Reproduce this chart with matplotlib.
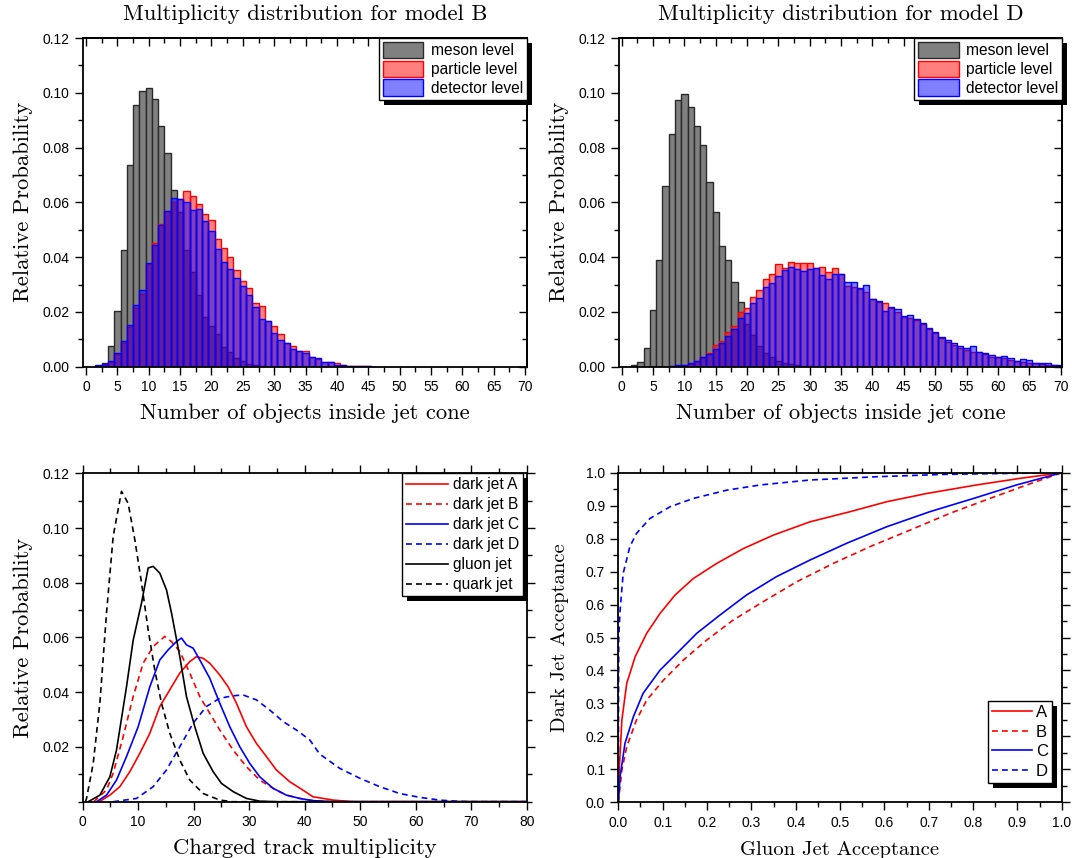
import numpy as np
import matplotlib
matplotlib.use("Agg")
import matplotlib.pyplot as plt
import matplotlib.patheffects as pe
from matplotlib.ticker import MultipleLocator, FixedLocator

# ---- model B histograms (bins = integer multiplicities) ----
meson_b_start = 2
meson_b = [0.0003, 0.0015, 0.0075, 0.0205, 0.0427, 0.0735, 0.0955, 0.1006, 0.1016,
           0.0977, 0.0878, 0.078, 0.0644, 0.0565, 0.0427, 0.0345, 0.0263, 0.018,
           0.015, 0.0118, 0.0072, 0.0052, 0.003, 0.0022, 0.001, 0.0006, 0.0003]
particle_b_start = 2
particle_b = [0.0003, 0.0008, 0.0018, 0.0045, 0.0085, 0.0145, 0.0215, 0.0265, 0.0375,
              0.045, 0.052, 0.057, 0.060, 0.0612, 0.0641, 0.0623, 0.0594, 0.0559,
              0.0536, 0.0468, 0.0434, 0.040, 0.0354, 0.0314, 0.0289, 0.0234, 0.022,
              0.0168, 0.0148, 0.0119, 0.0085, 0.0074, 0.0058, 0.0056, 0.0034, 0.0028,
              0.0018, 0.0016, 0.0013, 0.0006, 0.0003, 0.0002, 0.0001, 0.0001]
detector_b_start = 2
detector_b = [0.0006, 0.001, 0.002, 0.005, 0.0093, 0.0152, 0.0227, 0.0279, 0.0377,
              0.0445, 0.0519, 0.0568, 0.0616, 0.0611, 0.0602, 0.0573, 0.0576, 0.0533,
              0.0497, 0.043, 0.0384, 0.0358, 0.0325, 0.0293, 0.0261, 0.0217, 0.0173,
              0.0166, 0.0124, 0.0097, 0.0085, 0.0064, 0.0057, 0.005, 0.0034, 0.003,
              0.0018, 0.0016, 0.0006, 0.0006, 0.0003, 0.0002, 0.0002, 0.0001]

# ---- model D histograms ----
meson_d_start = 2
meson_d = [0.0005, 0.0017, 0.0068, 0.0206, 0.0388, 0.0661, 0.0848, 0.0973, 0.0994,
           0.0949, 0.0878, 0.081, 0.0676, 0.0566, 0.0442, 0.039, 0.031, 0.0235,
           0.0155, 0.0115, 0.0075, 0.005, 0.0035, 0.0022, 0.0013, 0.001, 0.0006,
           0.0004, 0.0002]
particle_d_start = 8
particle_d = [0.0002, 0.0004, 0.0007, 0.001, 0.0022, 0.0035, 0.005, 0.008, 0.0095,
              0.0126, 0.015, 0.02, 0.0215, 0.0256, 0.028, 0.0322, 0.0338, 0.0374,
              0.036, 0.0384, 0.038, 0.0377, 0.0378, 0.0359, 0.0363, 0.0344, 0.036,
              0.0338, 0.0293, 0.029, 0.0283, 0.0274, 0.0246, 0.0238, 0.0232, 0.0213,
              0.0201, 0.0183, 0.0177, 0.0171, 0.0156, 0.0137, 0.0122, 0.0104, 0.0091,
              0.0079, 0.0067, 0.0061, 0.0055, 0.0052, 0.0046, 0.0037, 0.0034, 0.003,
              0.0024, 0.002, 0.0017, 0.0015, 0.0012, 0.0009, 0.0007, 0.0005, 0.0004]
detector_d_start = 8
detector_d = [0.0002, 0.0005, 0.0008, 0.0012, 0.0022, 0.0034, 0.0048, 0.0065, 0.0088,
              0.0113, 0.0137, 0.0177, 0.0195, 0.0232, 0.025, 0.029, 0.0305, 0.0332,
              0.0354, 0.0363, 0.0356, 0.035, 0.0356, 0.036, 0.0335, 0.032, 0.0338,
              0.0338, 0.0309, 0.0309, 0.0287, 0.0299, 0.0246, 0.0241, 0.0204, 0.0217,
              0.021, 0.0185, 0.0188, 0.0173, 0.0159, 0.014, 0.0126, 0.0107, 0.0098,
              0.0085, 0.0077, 0.0067, 0.0074, 0.0052, 0.0049, 0.0041, 0.0037, 0.004,
              0.0033, 0.0022, 0.0027, 0.0024, 0.0015, 0.0012, 0.0012, 0.0005, 0.0008]

# ---- charged track multiplicity curves ----
jetA_x = [3, 4.9, 6.7, 8.5, 10.3, 12.1, 13.9, 15.7, 17.5, 19.3, 20.5, 21.7, 22.9, 24.7,
          26.2, 27.7, 29.5, 31.3, 33.1, 34.9, 37.3, 39.4, 41.5, 45.1, 48.7, 80]
jetA_y = [0, 0.0024, 0.0055, 0.011, 0.0177, 0.025, 0.0348, 0.0409, 0.047, 0.0512, 0.053,
          0.0524, 0.0506, 0.0463, 0.042, 0.036, 0.0274, 0.0213, 0.0165, 0.0116, 0.0073,
          0.0046, 0.0018, 0.0006, 0, 0]
jetB_x = [2, 4.3, 5.5, 7.3, 9.1, 10.9, 12.7, 14.8, 16.0, 17.5, 19.3, 21.1, 22.9, 24.7,
          27.1, 29.5, 31.9, 34.3, 36.7, 39.1, 41.5, 45, 80]
jetB_y = [0, 0.0043, 0.0104, 0.0238, 0.0384, 0.0506, 0.0567, 0.0604, 0.0585, 0.0549,
          0.047, 0.0384, 0.0323, 0.0262, 0.0189, 0.0128, 0.0079, 0.0049, 0.0024, 0.0012,
          0.0004, 0, 0]
jetC_x = [2.5, 4.3, 6.1, 7.9, 10.0, 12.1, 13.9, 15.4, 16.9, 17.8, 18.7, 19.9, 21.1, 22.9,
          24.7, 26.5, 28.3, 30.1, 31.9, 34.3, 36.7, 39.1, 41.5, 45, 80]
jetC_y = [0, 0.0024, 0.0079, 0.0165, 0.0274, 0.042, 0.0518, 0.0555, 0.0585, 0.0598,
          0.0573, 0.0561, 0.0518, 0.0451, 0.036, 0.0274, 0.0201, 0.014, 0.0091, 0.0049,
          0.0024, 0.0012, 0.0004, 0, 0]
jetD_x = [5.5, 9.7, 12.7, 15.1, 17.5, 19.9, 22.3, 24.7, 27.1, 28.9, 31.3, 33.7, 36.1,
          38.5, 40.9, 42.7, 46.3, 50.0, 53.5, 57.1, 60.7, 64.3, 67.9, 70.3, 80]
jetD_y = [0, 0.0012, 0.0055, 0.0116, 0.0201, 0.0287, 0.0348, 0.0378, 0.0387, 0.039,
          0.0372, 0.0335, 0.0293, 0.0262, 0.0226, 0.0174, 0.0122, 0.0085, 0.0055, 0.003,
          0.0016, 0.0006, 0.0001, 0, 0]
gluon_x = [1, 3.1, 4.9, 6.1, 7.9, 9.1, 10.6, 11.8, 12.7, 13.9, 15.1, 16.0, 17.5, 18.7,
           20.2, 21.7, 23.5, 25.0, 27.1, 29.5, 31.9, 35, 80]
gluon_y = [0, 0.0024, 0.0091, 0.0189, 0.042, 0.059, 0.0726, 0.0854, 0.086, 0.0835,
           0.0774, 0.069, 0.053, 0.0384, 0.0274, 0.0177, 0.011, 0.0067, 0.0037, 0.0012,
           0.0002, 0, 0]
quark_x = [0.5, 0.7, 1.9, 3.1, 4.3, 5.5, 7.0, 8.2, 9.4, 10.6, 11.8, 13.0, 14.2, 15.7,
           17.5, 19.3, 21.7, 24.7, 27, 80]
quark_y = [0, 0.0012, 0.014, 0.036, 0.069, 0.097, 0.1134, 0.109, 0.0957, 0.080, 0.0628,
           0.048, 0.036, 0.025, 0.0152, 0.0079, 0.003, 0.0006, 0, 0]

# ---- acceptance curves ----
rocA_x = [0, 0.002, 0.008, 0.019, 0.038, 0.064, 0.094, 0.128, 0.169, 0.222, 0.282, 0.35,
          0.432, 0.523, 0.605, 0.695, 0.808, 0.906, 1.0]
rocA_y = [0, 0.098, 0.25, 0.361, 0.442, 0.513, 0.573, 0.629, 0.679, 0.725, 0.77, 0.811,
          0.851, 0.882, 0.912, 0.937, 0.963, 0.983, 1.0]
rocB_x = [0, 0.008, 0.019, 0.041, 0.064, 0.102, 0.147, 0.199, 0.259, 0.327, 0.402, 0.485,
          0.568, 0.658, 0.748, 0.838, 0.921, 1.0]
rocB_y = [0, 0.098, 0.169, 0.25, 0.31, 0.371, 0.432, 0.492, 0.553, 0.609, 0.669, 0.725,
          0.776, 0.826, 0.877, 0.922, 0.963, 1.0]
rocC_x = [0, 0.004, 0.015, 0.034, 0.056, 0.094, 0.132, 0.177, 0.229, 0.289, 0.357, 0.432,
          0.515, 0.605, 0.703, 0.801, 0.898, 1.0]
rocC_y = [0, 0.078, 0.179, 0.26, 0.331, 0.401, 0.452, 0.513, 0.568, 0.629, 0.685, 0.735,
          0.786, 0.836, 0.882, 0.922, 0.963, 1.0]
rocD_x = [0, 0.0005, 0.001, 0.004, 0.011, 0.026, 0.041, 0.071, 0.117, 0.169, 0.244, 0.32,
          0.432, 0.583, 0.733, 0.883, 1.0]
rocD_y = [0, 0.3, 0.5, 0.583, 0.695, 0.776, 0.816, 0.861, 0.897, 0.922, 0.947, 0.963,
          0.978, 0.988, 0.995, 0.998, 1.0]

TICKFONT = "Liberation Sans"
SERIF = "cmr10"
LABEL_SIZE = 16.3
TICK_SIZE = 10
DASH = (0, (3.5, 2.5))

plt.rcParams["font.family"] = TICKFONT
plt.rcParams["axes.linewidth"] = 1.3

fig = plt.figure(figsize=(10.72, 8.58), dpi=100)


def shadow_legend(leg):
    fr = leg.get_frame()
    fr.set_edgecolor("black")
    fr.set_linewidth(1.0)
    fr.set_path_effects([pe.SimplePatchShadow(offset=(3.6, -3.6), shadow_rgbFace="black", alpha=1.0),
                         pe.Normal()])


def hist_panel(rect, title, meson, m0, particle, p0, detector, d0):
    ax = fig.add_axes(rect)
    ax.bar(np.arange(m0, m0 + len(meson)), meson, width=1.0, color="#808080",
           edgecolor="#2a2a2a", linewidth=1.0, label="meson level")
    ax.bar(np.arange(p0, p0 + len(particle)), particle, width=1.0, color=(1, 0, 0, 0.5),
           edgecolor="red", linewidth=1.0, label="particle level")
    ax.bar(np.arange(d0, d0 + len(detector)), detector, width=1.0, color=(0, 0, 1, 0.5),
           edgecolor="blue", linewidth=1.0, label="detector level")
    ax.set_xlim(-0.5, 70.3)
    ax.set_ylim(0, 0.12)
    ax.xaxis.set_major_locator(MultipleLocator(5))
    ax.xaxis.set_minor_locator(MultipleLocator(2.5))
    ax.yaxis.set_major_locator(MultipleLocator(0.02))
    ax.yaxis.set_minor_locator(MultipleLocator(0.01))
    ax.yaxis.set_major_formatter(plt.FormatStrFormatter("%.2f"))
    ax.tick_params(which="major", direction="out", length=6, width=1.0, labelsize=TICK_SIZE)
    ax.tick_params(which="minor", direction="out", length=3.5, width=1.0)
    # top/right ticks point inward
    top = ax.secondary_xaxis("top")
    top.xaxis.set_major_locator(MultipleLocator(5))
    top.xaxis.set_minor_locator(MultipleLocator(2.5))
    top.tick_params(which="major", direction="in", length=6, width=1.0, labeltop=False)
    top.tick_params(which="minor", direction="in", length=3.5, width=1.0)
    right = ax.secondary_yaxis("right")
    right.yaxis.set_major_locator(MultipleLocator(0.02))
    right.yaxis.set_minor_locator(MultipleLocator(0.01))
    right.tick_params(which="major", direction="in", length=6, width=1.0, labelright=False)
    right.tick_params(which="minor", direction="in", length=3.5, width=1.0)
    ax.set_title(title, family=SERIF, fontsize=LABEL_SIZE, pad=13)
    ax.set_xlabel("Number of objects inside jet cone", family=SERIF, fontsize=LABEL_SIZE, labelpad=7)
    ax.set_ylabel("Relative Probability", family=SERIF, fontsize=LABEL_SIZE, labelpad=7)
    leg = ax.legend(loc="upper right", bbox_to_anchor=(1.0, 1.0), borderaxespad=0,
                    fancybox=False, fontsize=11.2, handlelength=2.6, handleheight=1.25,
                    labelspacing=0.15, borderpad=0.25, handletextpad=0.5, framealpha=1)
    shadow_legend(leg)
    return ax


hist_panel([0.0773, 0.5726, 0.4143, 0.3831], "Multiplicity distribution for model B",
           meson_b, meson_b_start, particle_b, particle_b_start, detector_b, detector_b_start)
hist_panel([0.5770, 0.5726, 0.4141, 0.3831], "Multiplicity distribution for model D",
           meson_d, meson_d_start, particle_d, particle_d_start, detector_d, detector_d_start)

# ---- bottom left: charged track multiplicity ----
ax3 = fig.add_axes([0.0771, 0.0656, 0.4143, 0.3828])
lw = 1.2
ax3.plot(jetA_x, jetA_y, color="red", lw=lw, label="dark jet A")
ax3.plot(jetB_x, jetB_y, color="red", lw=lw, ls=DASH, label="dark jet B")
ax3.plot(jetC_x, jetC_y, color="blue", lw=lw, label="dark jet C")
ax3.plot(jetD_x, jetD_y, color="blue", lw=lw, ls=DASH, label="dark jet D")
ax3.plot(gluon_x, gluon_y, color="black", lw=lw, label="gluon jet")
ax3.plot(quark_x, quark_y, color="black", lw=lw, ls=DASH, label="quark jet")
ax3.set_xlim(0, 80)
ax3.set_ylim(0, 0.12)
ax3.xaxis.set_major_locator(MultipleLocator(10))
ax3.xaxis.set_minor_locator(MultipleLocator(5))
ax3.yaxis.set_major_locator(FixedLocator([0.02, 0.04, 0.06, 0.08, 0.10, 0.12]))
ax3.yaxis.set_minor_locator(MultipleLocator(0.01))
ax3.yaxis.set_major_formatter(plt.FormatStrFormatter("%.2f"))
ax3.tick_params(which="both", direction="out", top=True, right=True, width=1.0, labelsize=TICK_SIZE)
ax3.tick_params(which="major", length=6)
ax3.tick_params(which="minor", length=3.5)
ax3.set_xlabel("Charged track multiplicity", family=SERIF, fontsize=LABEL_SIZE, labelpad=7)
ax3.set_ylabel("Relative Probability", family=SERIF, fontsize=LABEL_SIZE, labelpad=7)
leg3 = ax3.legend(loc="upper right", bbox_to_anchor=(0.991, 1.0), borderaxespad=0,
                  fancybox=False, fontsize=11.2, handlelength=2.7, labelspacing=0.32,
                  borderpad=0.25, handletextpad=0.3, framealpha=1)
shadow_legend(leg3)

# ---- bottom right: acceptance ----
ax4 = fig.add_axes([0.5768, 0.0649, 0.4136, 0.3841])
ax4.plot(rocA_x, rocA_y, color="red", lw=lw, label="A")
ax4.plot(rocB_x, rocB_y, color="red", lw=lw, ls=DASH, label="B")
ax4.plot(rocC_x, rocC_y, color="blue", lw=lw, label="C")
ax4.plot(rocD_x, rocD_y, color="blue", lw=lw, ls=DASH, label="D")
ax4.set_xlim(0, 1)
ax4.set_ylim(0, 1)
for axis in (ax4.xaxis, ax4.yaxis):
    axis.set_major_locator(MultipleLocator(0.1))
    axis.set_minor_locator(MultipleLocator(0.05))
    axis.set_major_formatter(plt.FormatStrFormatter("%.1f"))
ax4.tick_params(which="both", direction="out", top=True, right=True, width=1.0, labelsize=TICK_SIZE)
ax4.tick_params(which="major", length=6)
ax4.tick_params(which="minor", length=3.5)
ax4.set_xlabel("Gluon Jet Acceptance", family=SERIF, fontsize=14.8, labelpad=8)
ax4.set_ylabel("Dark Jet Acceptance", family=SERIF, fontsize=14.8, labelpad=12)
leg4 = ax4.legend(loc="lower right", bbox_to_anchor=(0.978, 0.0586), borderaxespad=0,
                  fancybox=False, fontsize=12, handlelength=2.4, labelspacing=0.28,
                  borderpad=0.25, handletextpad=0.2, framealpha=1)
shadow_legend(leg4)

fig.savefig("out.png", dpi=100)
